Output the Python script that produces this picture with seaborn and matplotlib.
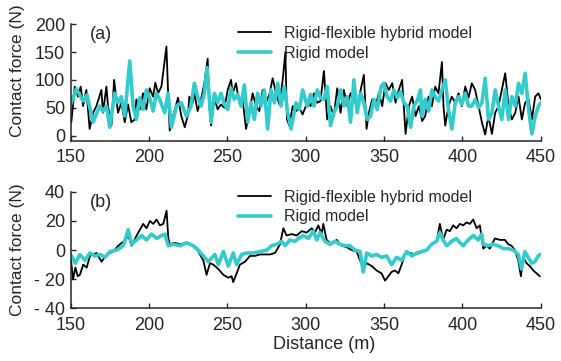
import numpy as np
import matplotlib
matplotlib.use("Agg")
import matplotlib.pyplot as plt
import seaborn as sns

# (a) contact force, rigid-flexible hybrid model
a_hybrid_x = [150, 150.4, 152.6, 154.7, 156.4, 157.9, 160.0, 162.1, 164.3, 166.4, 169.6, 170.6, 172.8, 173.8,
              176.0, 177.7, 180.2, 182.3, 184.5, 186.6, 188.7, 190.9, 191.9, 194.1, 196.2, 198.3, 200.4, 202.6,
              204.0, 205.8, 207.9, 211.1, 212.1, 213.2, 215.3, 218.5, 220.6, 222.8, 224.9, 225.7, 227.9, 228.9,
              231.0, 233.2, 235.3, 237.4, 238.5, 239.6, 241.7, 243.8, 245.9, 248.1, 250.2, 252.3, 253.4, 255.5,
              257.6, 259.8, 261.9, 264.0, 266.1, 268.3, 270.4, 272.5, 274.6, 276.8, 278.9, 281.0, 283.2, 285.3,
              287.0, 288.0, 289.5, 291.7, 293.8, 295.9, 298.0, 298.8, 300.9, 303.1, 305.2, 307.3, 309.4, 311.6,
              313.7, 315.8, 317.9, 320.1, 322.2, 324.3, 326.5, 328.6, 330.7, 332.8, 335.0, 337.1, 338.8, 340.3,
              342.4, 344.5, 346.7, 348.8, 350.9, 353.0, 355.2, 357.3, 359.4, 361.5, 363.7, 365.8, 367.9, 370.1,
              372.2, 374.3, 376.2, 378.4, 380.5, 382.6, 384.7, 386.9, 387.9, 389.0, 391.1, 393.2, 395.4, 397.5,
              399.6, 401.8, 403.9, 406.0, 408.1, 410.3, 412.4, 414.5, 416.6, 418.8, 420.9, 423.0, 425.1, 427.3,
              429.4, 431.5, 433.7, 435.8, 437.9, 440.0, 442.2, 444.3, 446.4, 448.5, 450]
a_hybrid = [29, 24, 88, 70, 88, 53, 82, 12, 41, 53, 82, 41, 88, 53,
            18, 100, 41, 59, 24, 56, 24, 29, 65, 47, 76, 47, 85, 70,
            95, 76, 88, 160, 82, 9, 35, 68, 35, 15, 38, 70, 59, 76,
            44, 65, 94, 138, 53, 18, 68, 47, 56, 50, 82, 100, 76, 94,
            59, 62, 12, 41, 76, 53, 44, 82, 59, 74, 103, 76, 56, 100,
            150, 29, 18, 53, 44, 50, 38, 44, 59, 53, 76, 59, 62, 116,
            29, 53, 35, 85, 41, 82, 53, 76, 65, 53, 82, 109, 12, 41,
            65, 53, 76, 53, 94, 82, 94, 59, 82, 100, 3, 53, 70, 35,
            53, 26, 35, 70, 53, 88, 76, 132, 53, 18, 53, 70, 59, 76,
            53, 88, 68, 94, 82, 53, 24, 2, 35, 3, 41, 53, 82, 112,
            53, 29, 41, 70, 29, 59, 65, 29, 70, 76, 65]

# (a) contact force, rigid model
a_rigid_x = [150, 153.6, 157.9, 160.4, 164.3, 168.5, 170.6, 172.8, 174.9, 178.1, 180.2, 182.3, 184.5, 187.7,
             189.8, 191.9, 194.1, 196.2, 198.3, 200.4, 202.6, 204.7, 206.8, 210.0, 212.1, 214.3, 217.5, 220.6,
             223.8, 226.8, 228.9, 231.0, 233.2, 235.3, 237.0, 239.6, 241.7, 243.8, 245.9, 248.1, 250.2, 252.3,
             254.4, 256.6, 258.7, 260.8, 263.0, 265.1, 267.2, 269.3, 271.5, 273.6, 275.7, 277.8, 280.0, 282.1,
             284.2, 286.3, 288.5, 290.6, 293.8, 295.9, 298.0, 300.9, 303.1, 305.2, 307.3, 309.4, 311.6, 313.7,
             315.8, 317.9, 320.1, 322.2, 324.3, 326.5, 328.6, 330.7, 332.8, 335.0, 337.1, 339.2, 341.3, 343.5,
             345.6, 348.1, 349.8, 352.0, 354.1, 356.2, 358.4, 360.5, 362.6, 364.7, 366.9, 369.0, 371.1, 373.2,
             374.1, 376.2, 378.4, 380.5, 382.6, 384.7, 386.9, 389.0, 391.1, 393.2, 395.4, 397.5, 399.6, 401.8,
             403.9, 406.0, 408.1, 410.3, 412.4, 414.5, 416.6, 418.8, 420.9, 423.0, 425.1, 427.3, 429.4, 431.5,
             433.7, 435.8, 437.9, 440.0, 442.2, 444.3, 446.4, 448.5, 450]
a_rigid = [56, 84, 62, 73, 24, 53, 44, 53, 15, 76, 59, 70, 35, 134,
           53, 29, 68, 47, 82, 68, 44, 76, 65, 41, 76, 15, 53, 59,
           35, 53, 94, 70, 53, 76, 122, 24, 76, 59, 76, 56, 47, 85,
           65, 74, 53, 91, 24, 59, 29, 76, 53, 82, 12, 82, 59, 94,
           53, 88, 41, 12, 59, 47, 82, 53, 74, 53, 82, 68, 65, 88,
           18, 41, 53, 82, 53, 70, 24, 100, 41, 76, 59, 29, 35, 65,
           47, 88, 94, 70, 62, 82, 68, 79, 59, 53, 15, 53, 62, 82,
           35, 65, 44, 82, 70, 62, 82, 100, 47, 12, 59, 70, 56, 76,
           53, 53, 65, 50, 59, 103, 29, 41, 82, 53, 29, 82, 29, 70,
           53, 94, 76, 112, 47, 3, 35, 53, 59]

# (b) contact force, rigid-flexible hybrid model
b_hybrid_x = [150, 151.5, 153, 154.5, 155.9, 158.0, 160.2, 162.3, 166.5, 169.7, 172.9, 177.2, 180.4, 182.5,
              184.6, 186.7, 188.9, 192.1, 194.2, 196.3, 198.4, 200.6, 202.7, 204.8, 206.9, 209.1, 211.2, 212.3,
              213.3, 216.5, 219.7, 224.0, 228.2, 231.4, 234.6, 236.7, 238.9, 241.0, 244.2, 247.4, 250.6, 252.7,
              253.7, 255.9, 258.0, 261.2, 264.4, 267.6, 270.8, 274.0, 277.2, 280.4, 283.6, 285.7, 287.8, 291.0,
              294.2, 297.4, 300.6, 303.8, 305.9, 308.0, 310.1, 311.2, 313.3, 316.5, 319.7, 322.9, 326.1, 329.3,
              332.5, 334.6, 336.7, 338.9, 342.1, 345.2, 348.4, 350.6, 352.7, 354.8, 357.0, 359.1, 361.2, 363.3,
              366.5, 369.7, 372.9, 377.2, 380.3, 383.5, 385.6, 387.7, 389.9, 392.0, 394.1, 396.2, 398.4, 400.5,
              402.6, 404.7, 406.9, 409.0, 411.1, 413.3, 415.4, 417.5, 420.7, 423.9, 427.1, 429.2, 431.3, 433.5,
              435.6, 437.3, 438.8, 440.9, 443.0, 445.2, 447.3, 449.4]
b_hybrid = [-5, -20, -12, -18, -17, -10, -12, -4, -2, -8, -3, -1, 3, 5,
            6, 10, 3, 10, 14, 18, 15, 20, 18, 21, 17, 18, 27, 8,
            4, 5, 4, 5, 3, -1, -7, -17, -9, -10, -13, -17, -19, -18,
            -22, -16, -10, -8, -4, -4, -3, -3, -3, -2, 4, 15, 10, 11,
            10, 13, 12, 15, 12, 17, 11, 18, 7, 4, 7, 3, 2, 0,
            -1, -7, -12, -9, -11, -14, -16, -21, -18, -15, -14, -16, -10, -3,
            -2, -3, -2, 0, 4, 6, 18, 7, 14, 13, 17, 15, 18, 17,
            19, 18, 21, 15, 17, 1, 3, 1, 8, 7, 7, 4, 3, 0,
            -7, -18, -5, -9, -11, -14, -16, -18]

# (b) contact force, rigid model
b_rigid_x = [150, 153, 155.9, 159.1, 162.3, 165.5, 168.7, 171.9, 175.0, 179.3, 183.6, 186.7, 188.9, 192.1,
             195.2, 198.4, 201.6, 204.8, 208.0, 210.1, 212.3, 215.5, 219.7, 224.0, 228.2, 231.4, 234.6, 237.8,
             242.0, 244.2, 247.4, 250.6, 253.7, 255.9, 259.1, 262.3, 266.5, 270.8, 275.1, 278.2, 281.4, 284.6,
             286.8, 289.9, 293.1, 295.3, 298.5, 301.6, 304.8, 307.0, 309.1, 312.3, 315.5, 318.7, 321.9, 325.0,
             328.2, 331.4, 334.6, 336.7, 338.9, 342.1, 345.2, 348.4, 351.6, 354.8, 358.0, 361.2, 364.4, 367.6,
             370.8, 374.0, 377.2, 380.3, 383.5, 385.6, 387.7, 389.9, 393.0, 396.2, 398.4, 400.5, 403.7, 406.9,
             410.1, 412.2, 413.3, 416.4, 419.6, 422.8, 426.0, 429.2, 432.4, 435.6, 437.7, 439.8, 442.0, 444.1,
             446.2, 448.3, 449.8]
b_rigid = [-3, -9, -3, -7, -2, -4, -3, -5, -1, 0, 3, 14, 4, 7,
           10, 7, 11, 8, 10, 11, 3, 4, 3, 5, 3, 0, -4, -8,
           -3, -10, -1, -11, -2, -10, -3, -2, -2, -1, 0, 3, 4, 6,
           3, 7, 6, 8, 10, 8, 13, 7, 12, 6, 4, 6, 4, 3,
           3, 0, -1, -15, -2, -4, -3, -5, -4, -10, -5, -7, -1, -4,
           -2, -1, 0, 4, 6, 12, 7, 3, 6, 8, 5, 3, 7, 10,
           7, 11, 4, 3, 4, 3, 1, 1, 0, -3, -13, -1, -5, -9,
           -8, -4, -3]

x_ticks = [150, 200, 250, 300, 350, 400, 450]
a_yticks = [0, 50, 100, 150, 200]
b_yticks = [-40, -20, 0, 20, 40]
b_yticklabels = ["- 40", "- 20", "0", "20", "40"]

sns.set_style("ticks")
plt.rcParams["font.family"] = ["Liberation Sans", "DejaVu Sans"]

cyan = "#33cccc"
fig, axes = plt.subplots(2, 1, figsize=(5.61, 3.61), dpi=100)
fig.subplots_adjust(left=0.126, right=0.964, top=0.933, bottom=0.146, hspace=0.44)

panels = [
    (axes[0], a_hybrid_x, a_hybrid, a_rigid_x, a_rigid, "(a)"),
    (axes[1], b_hybrid_x, b_hybrid, b_rigid_x, b_rigid, "(b)"),
]
for ax, hx, hy, rx, ry, tag in panels:
    sns.lineplot(x=hx, y=hy, ax=ax, color="black", linewidth=1.3,
                 label="Rigid-flexible hybrid model", estimator=None, sort=False)
    sns.lineplot(x=rx, y=ry, ax=ax, color=cyan, linewidth=2.6,
                 label="Rigid model", estimator=None, sort=False)
    ax.set_xlim(150, 450)
    ax.set_xticks(x_ticks)
    ax.tick_params(direction="in", length=3.5, width=1, labelsize=13, pad=4)
    ax.tick_params(axis="x", pad=6)
    for s in ["left", "bottom"]:
        ax.spines[s].set_linewidth(1.1)
    sns.despine(ax=ax)
    ax.set_ylabel("Contact force (N)", fontsize=12.5)
    ax.text(0.04, 0.91, tag, transform=ax.transAxes, fontsize=13, va="center", ha="left")

axes[0].set_ylim(-9, 200)
axes[0].set_yticks(a_yticks)
axes[0].yaxis.set_label_coords(-0.097, 0.6)
axes[0].legend(loc="upper left", bbox_to_anchor=(0.355, 0.985), frameon=False, fontsize=11.5,
               handlelength=2.1, handletextpad=0.8, labelspacing=0.3, borderpad=0, borderaxespad=0)

axes[1].set_ylim(-40, 40)
axes[1].set_yticks(b_yticks)
axes[1].set_yticklabels(b_yticklabels)
axes[1].yaxis.set_label_coords(-0.097, 0.5)
axes[1].legend(loc="upper left", bbox_to_anchor=(0.355, 1.02), frameon=False, fontsize=11.5,
               handlelength=2.1, handletextpad=0.8, labelspacing=0.3, borderpad=0, borderaxespad=0)
axes[1].set_xlabel("Distance (m)", fontsize=13)
axes[1].xaxis.set_label_coords(0.54, -0.24)

fig.savefig("out.png", dpi=100)
